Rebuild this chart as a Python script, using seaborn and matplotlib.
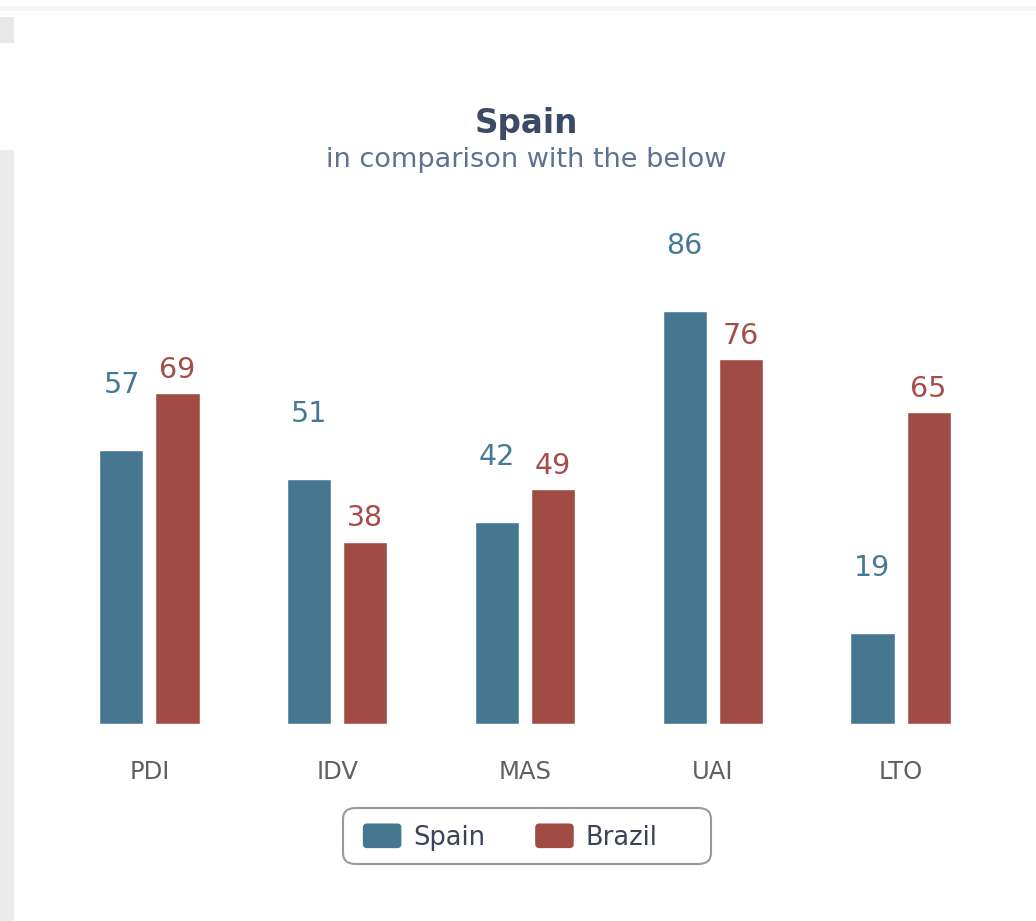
import matplotlib
matplotlib.use("Agg")
import matplotlib.pyplot as plt
from matplotlib.patches import FancyBboxPatch, Rectangle, Patch
from matplotlib.legend_handler import HandlerPatch
import seaborn as sns
import pandas as pd

# Hofstede dimension scores
dimensions = ["PDI", "IDV", "MAS", "UAI", "LTO"]
spain = [57, 51, 42, 86, 19]
brazil = [69, 38, 49, 76, 65]
countries = ["Spain", "Brazil"]

title = "Spain"
subtitle = "in comparison with the below"

bar_colors = {"Spain": "#457890", "Brazil": "#a04c45"}
label_colors = {"Spain": "#467a94", "Brazil": "#a44c48"}
label_offsets = {"Spain": 41, "Brazil": 11}  # points above bar top

df = pd.DataFrame({
    "dimension": dimensions * 2,
    "score": spain + brazil,
    "country": [countries[0]] * len(spain) + [countries[1]] * len(brazil),
})

sns.set_theme(style="white")
plt.rcParams["font.family"] = ["DejaVu Sans"]

fig = plt.figure(figsize=(10.36, 9.21), dpi=100)
fig.patch.set_facecolor("white")

# page decoration: faint top rule and left side panel
fig.patches.append(Rectangle((0, 1 - 11 / 921), 1, 5 / 921, transform=fig.transFigure,
                             facecolor="#f5f5f5", edgecolor="none", zorder=0))
fig.patches.append(Rectangle((0, 1 - 43 / 921), 14 / 1036, 26 / 921, transform=fig.transFigure,
                             facecolor="#e8e8e8", edgecolor="none", zorder=0))
fig.patches.append(Rectangle((0, 0), 14 / 1036, 1 - 150 / 921, transform=fig.transFigure,
                             facecolor="#ececec", edgecolor="none", zorder=0))

ax = fig.add_axes([55.6 / 1036, 197 / 921, 938.8 / 1036, 480 / 921])

sns.barplot(data=df, x="dimension", y="score", hue="country", order=dimensions,
            hue_order=countries, palette=bar_colors, width=0.597, gap=0.214,
            saturation=1, errorbar=None, legend=False, ax=ax, zorder=2)

ax.set_xlim(-0.5, len(dimensions) - 0.5)
ax.set_ylim(0, 100)
ax.set_xlabel("")
ax.set_ylabel("")
ax.set_yticks([])
for s in ax.spines.values():
    s.set_visible(False)
ax.tick_params(axis="x", length=0, pad=26, labelsize=17.5, labelcolor="#606060")
ax.patch.set_alpha(0)

# value labels above each bar
for container, country in zip(ax.containers, countries):
    for bar in container:
        h = bar.get_height()
        ax.annotate(f"{h:.0f}", (bar.get_x() + bar.get_width() / 2, h),
                    xytext=(0, label_offsets[country]), textcoords="offset points",
                    ha="center", va="baseline", fontsize=20.5,
                    color=label_colors[country], annotation_clip=False)

fig.text(526 / 1036, 1 - 123 / 921, title, ha="center", va="center",
         fontsize=23.5, fontweight="bold", color="#3b4a66")
fig.text(526 / 1036, 1 - 160 / 921, subtitle, ha="center", va="center",
         fontsize=19.5, color="#5f7291")

# legend with rounded swatches inside a rounded frame
def rounded_swatch(legend, orig_handle, xdescent, ydescent, width, height, fontsize):
    return FancyBboxPatch((-xdescent, -ydescent), width, height,
                          boxstyle="round,pad=0,rounding_size=3")

handles = [Patch(facecolor=bar_colors[c], edgecolor="none") for c in countries]
fig.legend(handles, countries, loc="center", bbox_to_anchor=(510 / 1036, 1 - 837 / 921),
           ncol=2, frameon=False, fontsize=18.5, labelcolor="#3b4456",
           handlelength=1.5, handleheight=1.1, handletextpad=0.45, columnspacing=1.95,
           handler_map={Patch: HandlerPatch(patch_func=rounded_swatch)})

fig.patches.append(FancyBboxPatch((343 / 1036, 1 - 864 / 921), 368 / 1036, 56 / 921,
                                  boxstyle="round,pad=0,rounding_size=0.012",
                                  transform=fig.transFigure, facecolor="none",
                                  edgecolor="#9a9a9a", linewidth=1.5, zorder=1))

fig.savefig("out.png", dpi=100, facecolor="white")
